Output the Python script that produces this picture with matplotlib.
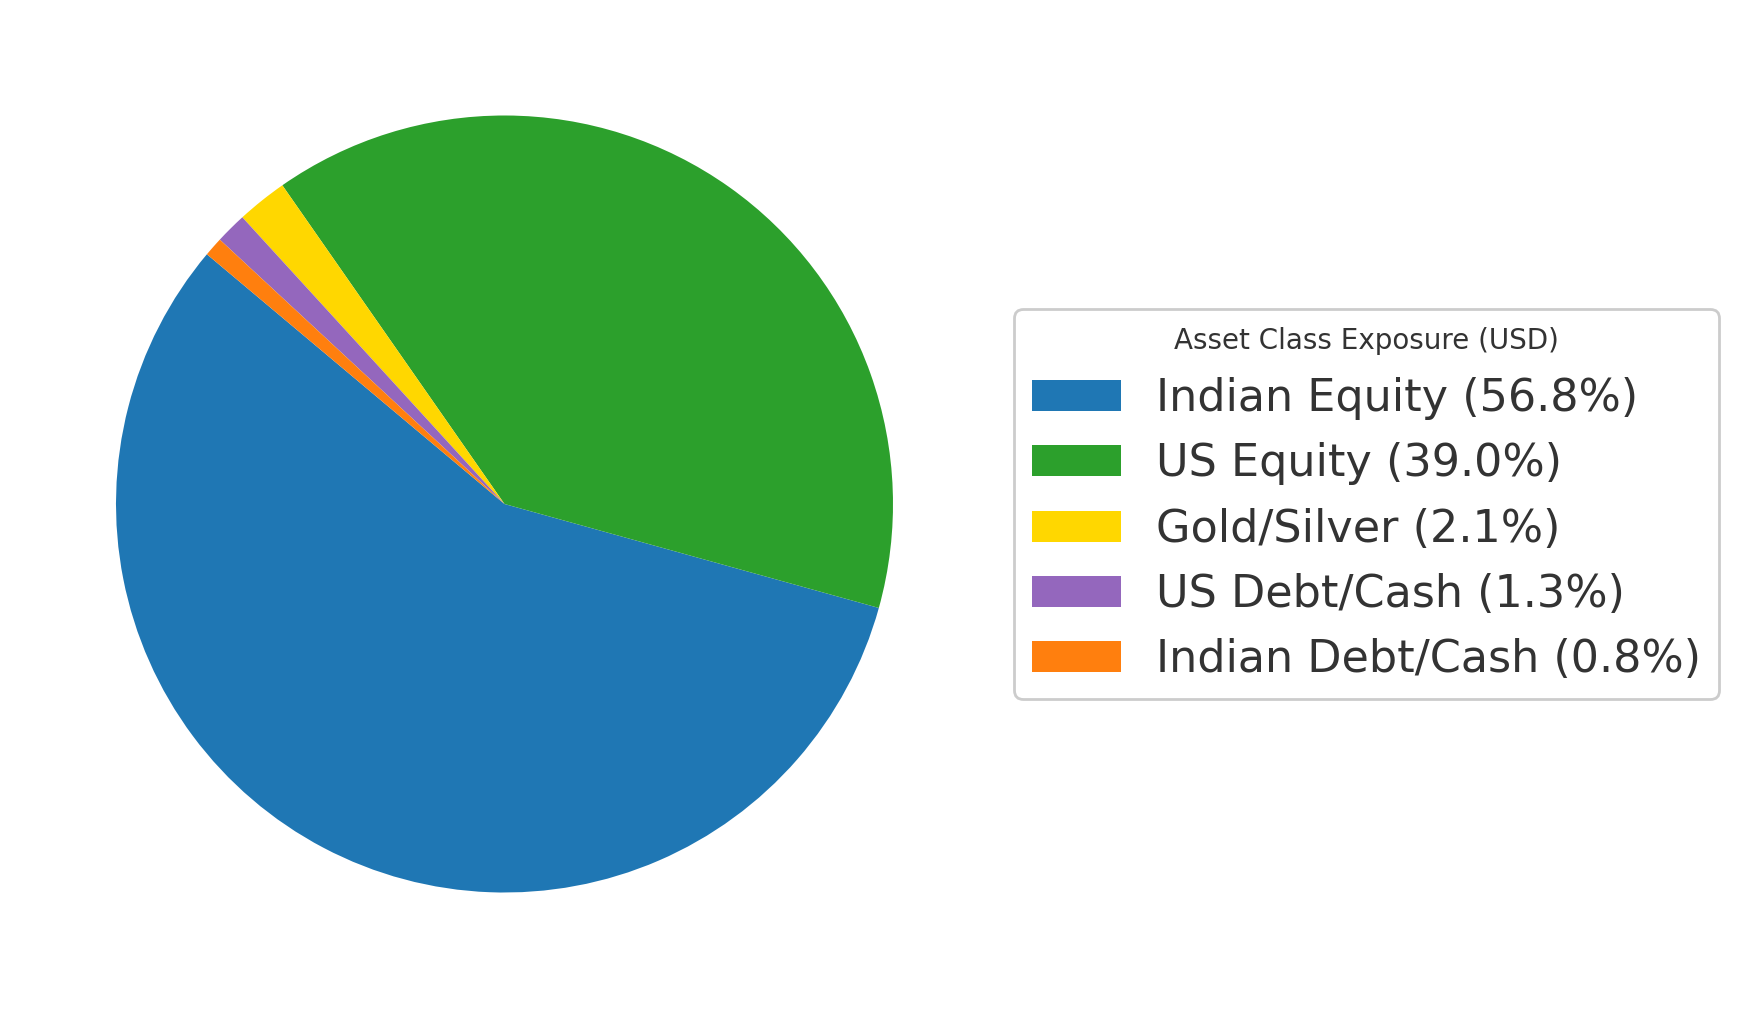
import matplotlib
matplotlib.use("Agg")
import matplotlib.pyplot as plt

categories = ["Indian Equity", "US Equity", "Gold/Silver", "US Debt/Cash", "Indian Debt/Cash"]
values = [56.8, 39.0, 2.1, 1.3, 0.8]
colors = ["#1f77b4", "#2ca02c", "#FFD700", "#9467bd", "#ff7f0e"]
legend_title = "Asset Class Exposure (USD)"

labels = [f"{c} ({v:.1f}%)" for c, v in zip(categories, values)]

W, H = 1738, 1010
fig = plt.figure(figsize=(W / 200, H / 200), dpi=200)
cx, cy, r = 504.5, 504.0, 388.5
ax = fig.add_axes([(cx - r) / W, (H - cy - r) / H, 2 * r / W, 2 * r / H])
wedges, _ = ax.pie(values, colors=colors, startangle=140, counterclock=True,
                   wedgeprops=dict(linewidth=0))
ax.set_xlim(-1, 1)
ax.set_ylim(-1, 1)
ax.set_aspect("equal")
ax.axis("off")

leg = fig.legend(wedges, labels, title=legend_title, loc="center left",
                 bbox_to_anchor=(1014 / W, 1 - 504 / H), borderaxespad=0,
                 fontsize=16, title_fontsize=10,
                 frameon=True, fancybox=True, edgecolor="0.8", framealpha=1.0)
for t in leg.get_texts():
    t.set_color("0.2")
leg.get_title().set_color("0.2")

fig.savefig("out.png", dpi=200)
